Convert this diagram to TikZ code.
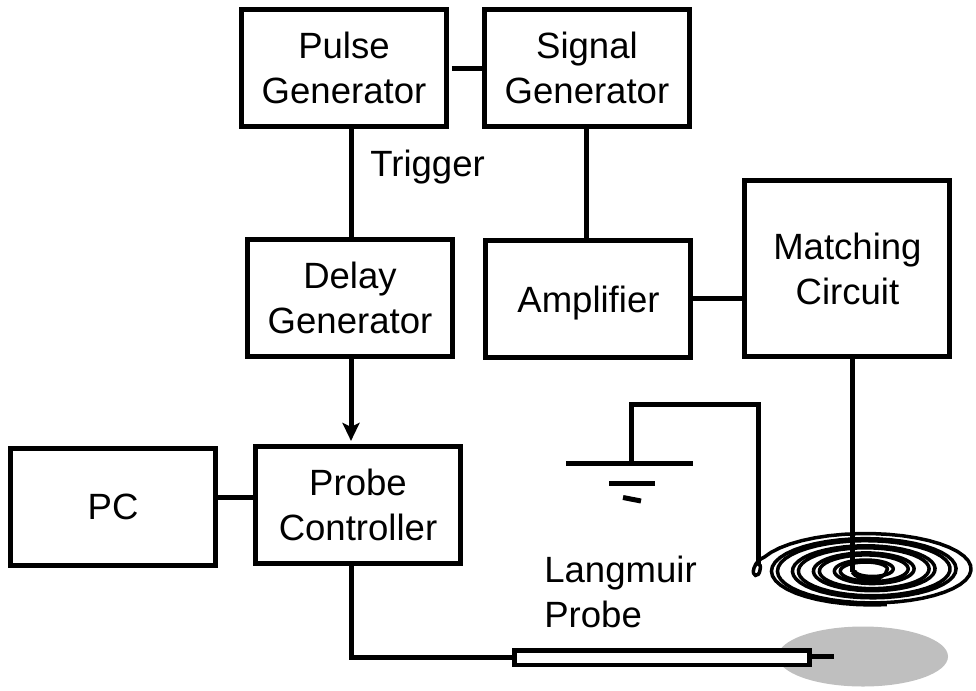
\documentclass[tikz,border=0pt]{standalone}
\usepackage{fontspec}
\setmainfont{Liberation Sans}
\usetikzlibrary{arrows.meta,positioning,calc}
\tikzset{
  blk/.style={draw, rectangle, line width=0.1cm, minimum width=4.1cm, minimum height=2.34cm, align=center, font=\fontsize{20.8}{25.6}\selectfont},
  lbl/.style={align=left, inner sep=0pt, font=\fontsize{20.8}{25.6}\selectfont},
  wire/.style={line width=0.1cm},
  coil/.style={line width=0.07cm},
  arr/.style={-{Stealth[length=3.6mm,width=3.4mm,inset=0.8mm]}, line width=0.1cm, shorten >=0.06cm},
}

\begin{document}
\begin{tikzpicture}[x=0.02cm, y=-0.02cm, line join=miter,
  declare function={coilr(\t,\s)=\s+0.05833*(\t-360);}]
\useasboundingbox (0,0) rectangle (976,690);

\fill[black!25] (863,656.5) ellipse [x radius=85, y radius=30];

\node[blk] (pulse) at (344,68) {Pulse\\Generator};
\node[blk, right=0.66cm of pulse] (signal) {Signal\\Generator};
\node[blk, below=2.16cm of pulse, xshift=0.12cm] (delay) {Delay\\Generator};
\node[blk, below=2.18cm of signal, xshift=0.03cm, text depth=0pt] (amp) {Amplifier};
\node[blk, right=0.98cm of amp, yshift=0.6cm, minimum height=3.52cm] (match) {Matching\\Circuit};
\node[blk, below=1.7cm of delay, xshift=0.16cm] (ctrl) {Probe\\Controller};
\node[blk, left=0.7cm of ctrl, yshift=-0.04cm] (pc) {PC};

\node[lbl, anchor=base west] (trig) at (370,176) {Trigger};
\node[lbl, anchor=base west] (lang) at (544,627) {Langmuir\\Probe};

\node[draw, line width=0.09cm, fill=white, minimum width=5.91cm, minimum height=0.29cm, inner sep=0pt] (probe) at (662,657.5) {};
\coordinate (tip) at (834,656.5);
\coordinate (corner) at (351,657);
\coordinate (pcy) at (0,497);
\coordinate (gndtop) at (631,463);
\coordinate (gndleft) at (566,463);
\coordinate (gndright) at (693,463);
\coordinate (bendl) at (631,404);
\coordinate (bendr) at (758,404);
\coordinate (hook) at (758,564);
\coordinate (coilin) at (852,572);

\draw[wire, shorten <=0.06cm] (pulse) -- (signal);
\draw[wire] (pulse.south -| corner) -- (delay.north -| corner);
\draw[wire] (signal.south) -- (signal.south |- amp.north);
\draw[wire] (amp) -- (amp -| match.west);
\draw[wire] (pc.east |- pcy) -- (ctrl.west |- pcy);
\draw[arr] (delay.south -| corner) -- (ctrl.north -| corner);
\draw[wire] (ctrl.south -| corner) -- (corner) -- (probe.west |- corner);
\draw[wire] (probe.east |- tip) -- (tip);

\draw[wire] (gndleft) -- (gndright);
\draw[wire] (609,483) -- (655,483);
\draw[wire] (623,497.5) -- (641,501);
\draw[wire] (gndtop) -- (bendl) -- (bendr) -- (hook);
\draw[wire] (match.south -| coilin) -- (coilin);

% flat coil, two interleaved windings
\draw[coil] plot[domain=180:1720, samples=190, variable=\t]
  ({869+coilr(\t,24)*cos(\t)}, {570-0.34*coilr(\t,24)*sin(\t)});
\draw[coil] (coilin) .. controls (858,582) and (885,582) .. (887,570)
  -- plot[domain=360:1960, samples=200, variable=\t]
  ({869+coilr(\t,18)*cos(\t)}, {570-0.34*coilr(\t,18)*sin(\t)})
  .. controls (760,559) and (756,562) .. (754,568)
  .. controls (751,577) and (759,578) .. (760,570)
  .. controls (761,566) and (760,564) .. (hook);
\end{tikzpicture}
\end{document}
